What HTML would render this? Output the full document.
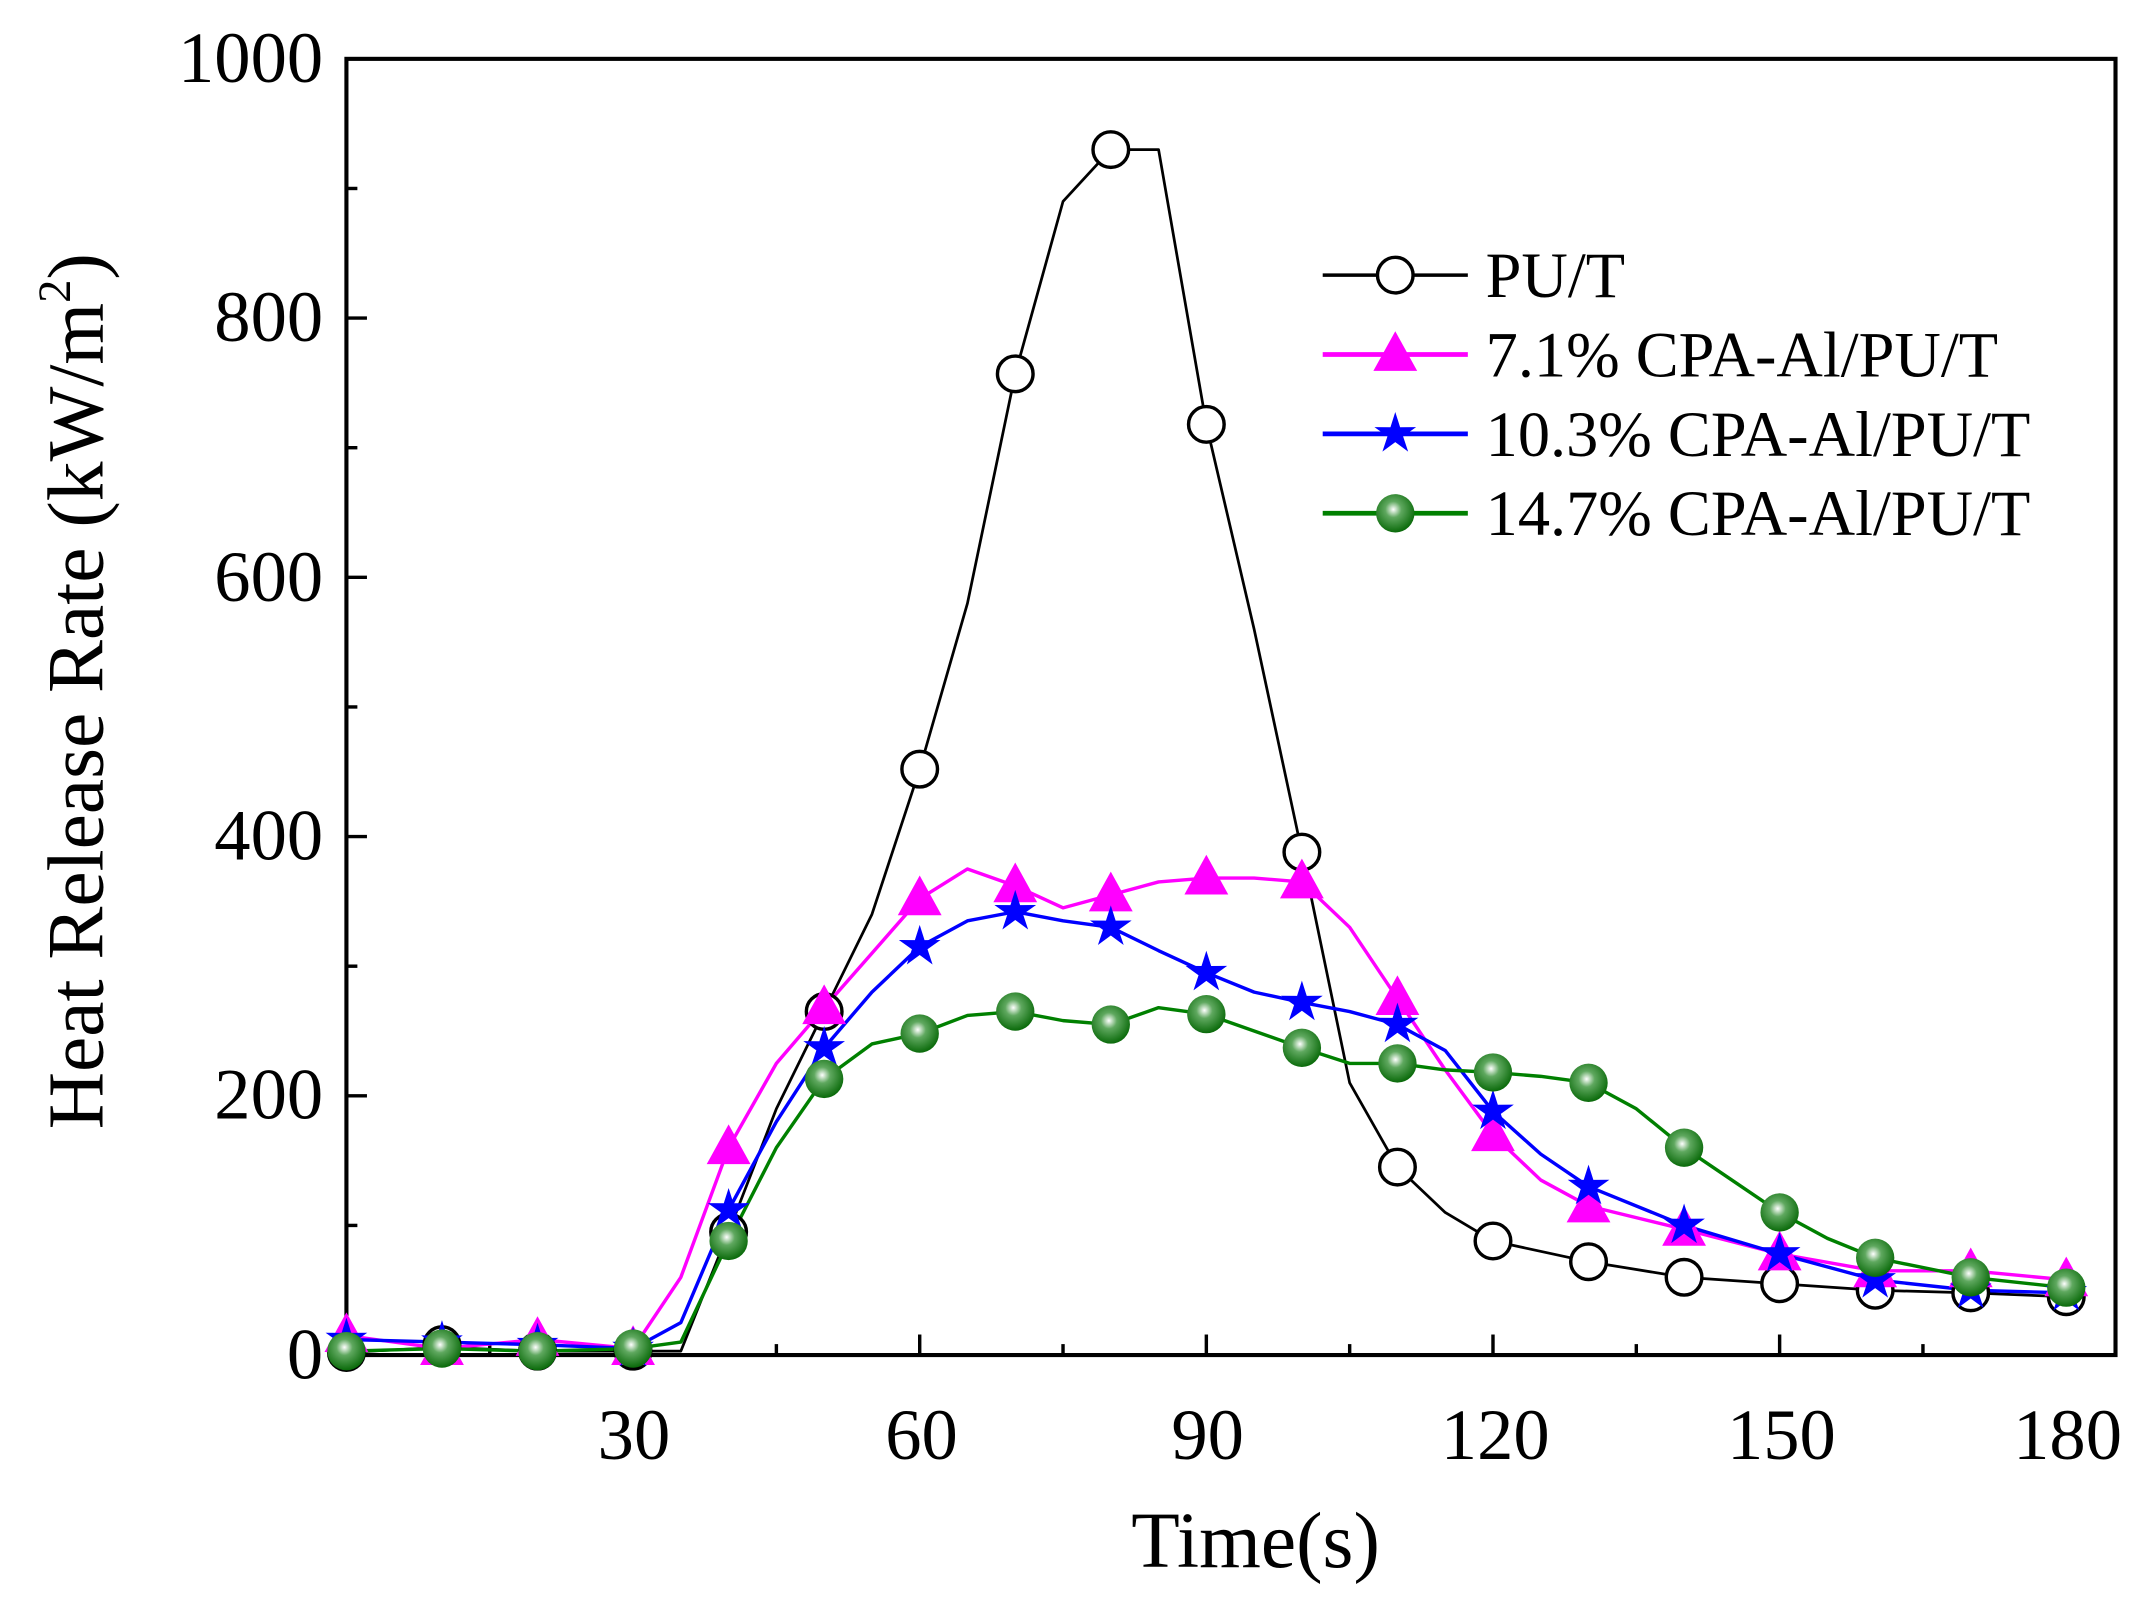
<!DOCTYPE html>
<html><head><meta charset="utf-8"><style>
html,body{margin:0;padding:0;background:#fff;}
svg{display:block;}
text{font-family:"Liberation Serif",serif;fill:#000;}
</style></head><body>
<svg id="s" width="2147" height="1611" viewBox="0 0 1568 1177" preserveAspectRatio="none" xmlns="http://www.w3.org/2000/svg">
<defs>
<radialGradient id="gb" cx="0.45" cy="0.4" r="0.6">
<stop offset="0" stop-color="#ffffff"/><stop offset="0.35" stop-color="#5fa85f"/><stop offset="1" stop-color="#0a6a0a"/>
</radialGradient>
</defs>
<rect x="253" y="43" width="1292" height="947" fill="none" stroke="#000" stroke-width="3"/>
<g id="ticks" stroke="#000" stroke-width="2.5"></g>
<g id="series"></g>
<g font-size="53" text-anchor="end">
<text x="236" y="1007">0</text><text x="236" y="817">200</text><text x="236" y="628">400</text>
<text x="236" y="439">600</text><text x="236" y="249">800</text><text x="236" y="60">1000</text>
</g>
<g font-size="53" text-anchor="middle">
<text x="463" y="1066">30</text><text x="673" y="1066">60</text><text x="882" y="1066">90</text>
<text x="1092" y="1066">120</text><text x="1301" y="1066">150</text><text x="1510" y="1066">180</text>
</g>
<text x="917" y="1145" font-size="58" text-anchor="middle">Time(s)</text>
<text transform="translate(75,505) rotate(-90)" font-size="58" text-anchor="middle">Heat Release Rate (kW/m<tspan font-size="34" dy="-24">2</tspan><tspan dy="24">)</tspan></text>
<g font-size="47">
<text x="1085" y="217">PU/T</text>
<text x="1085" y="275">7.1% CPA-Al/PU/T</text>
<text x="1085" y="333">10.3% CPA-Al/PU/T</text>
<text x="1085" y="391">14.7% CPA-Al/PU/T</text>
</g>
<g id="legend"></g>
</svg>
<script>
var NS="http://www.w3.org/2000/svg";
function X(t){return 253+6.978*t;} function Y(v){return 990-0.947*v;}
function el(p,n,a){var e=document.createElementNS(NS,n);for(var k in a)e.setAttribute(k,a[k]);p.appendChild(e);return e;}
var tk=document.getElementById('ticks');
for(var t=15;t<180;t+=15){el(tk,'line',{x1:X(t),x2:X(t),y1:990,y2:(t%30==0?975:982)});}
for(var v=100;v<1000;v+=100){el(tk,'line',{x1:253,x2:(v%200==0?268:261),y1:Y(v),y2:Y(v)});}
var S=[
{c:'#000',m:'o',w:2,line:[[0,2],[10,6],[20,3],[30,3],[35,3],[40,95],[45,190],[50,265],[55,340],[60,452],[65,580],[70,757],[75,890],[80,930],[85,930],[90,718],[95,560],[100,388],[105,210],[110,145],[115,110],[120,88],[130,72],[140,60],[150,55],[160,50],[170,48],[180,45]],
 pts:[[0,2],[10,8],[20,3],[30,3],[40,95],[50,265],[60,452],[70,757],[80,930],[90,718],[100,388],[110,145],[120,88],[130,72],[140,60],[150,55],[160,50],[170,48],[180,45]]},
{c:'#ff00ff',m:'t',w:2.5,line:[[0,15],[10,5],[20,12],[30,5],[35,60],[40,160],[45,225],[50,268],[55,310],[60,352],[65,375],[70,362],[75,345],[80,355],[85,365],[90,368],[95,368],[100,365],[105,330],[110,275],[115,220],[120,170],[125,135],[130,115],[140,97],[150,78],[160,65],[170,65],[180,58]]},
{c:'#0000ff',m:'s',w:2.5,line:[[0,12],[10,10],[20,8],[30,5],[35,25],[40,112],[45,180],[50,237],[55,280],[60,315],[65,335],[70,342],[75,335],[80,330],[85,312],[90,295],[95,280],[100,272],[105,265],[110,255],[115,235],[120,188],[125,155],[130,130],[140,100],[150,78],[160,58],[170,50],[180,48]]},
{c:'#008000',m:'g',w:2.5,line:[[0,3],[10,5],[20,3],[30,5],[35,10],[40,88],[45,160],[50,213],[55,240],[60,248],[65,262],[70,265],[75,258],[80,255],[85,268],[90,263],[95,250],[100,237],[105,225],[110,225],[115,220],[120,218],[125,215],[130,210],[135,190],[140,160],[145,135],[150,110],[155,90],[160,75],[170,60],[180,52]]}
];
var sg=document.getElementById('series');
function marker(p,m,x,y){
 if(m=='o')el(p,'circle',{cx:x,cy:y,r:13,fill:'#fff',stroke:'#000','stroke-width':2.5});
 else if(m=='t')el(p,'polygon',{points:(x)+','+(y-17)+' '+(x-16)+','+(y+12)+' '+(x+16)+','+(y+12),fill:'#ff00ff'});
 else if(m=='s'){var s='';for(var i=0;i<10;i++){var r=i%2?6:16,a=-Math.PI/2+i*Math.PI/5;s+=(x+r*Math.cos(a))+','+(y+r*Math.sin(a))+' ';}el(p,'polygon',{points:s,fill:'#0000ff'});}
 else el(p,'circle',{cx:x,cy:y,r:14,fill:'url(#gb)'});
}
S.forEach(function(s){
 el(sg,'polyline',{points:s.line.map(function(p){return X(p[0])+','+Y(p[1]);}).join(' '),fill:'none',stroke:s.c,'stroke-width':s.w,'stroke-linejoin':'round'});
});
S.forEach(function(s){
 var pts=s.pts||s.line.filter(function(p){return p[0]%10==0;});
 pts.forEach(function(p){marker(sg,s.m,X(p[0]),Y(p[1]));});
});
var lg=document.getElementById('legend');
[201,259,317,375].forEach(function(y,i){
 el(lg,'line',{x1:966,x2:1072,y1:y,y2:y,stroke:S[i].c,'stroke-width':i==0?2.5:3.5});
 marker(lg,S[i].m,1019,y);
});
</script>
</body></html>
